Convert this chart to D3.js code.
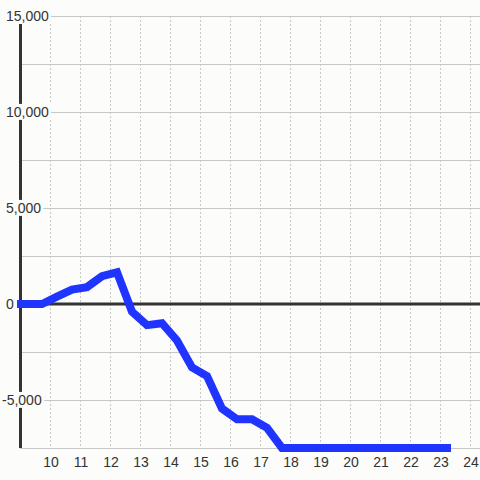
<!DOCTYPE html>
<html>
<head>
<meta charset="utf-8">
<script src="https://cdn.jsdelivr.net/npm/d3@7"></script>
<style>
  html, body { margin: 0; padding: 0; background: #fcfcfa; }
  svg { display: block; }
</style>
</head>
<body>
<svg id="chart" width="480" height="480"></svg>
<script>
// data
const hours = [9.0, 9.7, 10.2, 10.7, 11.2, 11.7, 12.2, 12.7, 13.2, 13.7, 14.2, 14.7, 15.2, 15.7,
               16.2, 16.7, 17.2, 17.7, 18.2, 18.7, 19.2, 19.7, 20.2, 20.7, 21.2, 21.7, 22.2, 22.7, 23.2];
const values = [0, 0, 380, 750, 880, 1450, 1650, -400, -1100, -1000, -1900, -3300, -3750, -5450,
                -6000, -6000, -6450, -7500, -7500, -7500, -7500, -7500, -7500, -7500, -7500, -7500, -7500, -7500, -7500];
const xTicks = [10, 11, 12, 13, 14, 15, 16, 17, 18, 19, 20, 21, 22, 23, 24];
const yGrid = [15000, 12500, 10000, 7500, 5000, 2500, 0, -2500, -5000, -7500];
const yLabels = [15000, 10000, 5000, 0, -5000];

const W = 480, H = 480;
const bg = '#fcfcfa';
const svg = d3.select('#chart');
svg.append('rect').attr('width', W).attr('height', H).attr('fill', bg);

const x = d3.scaleLinear().domain([9, 24.3]).range([21, 480]);
const y = d3.scaleLinear().domain([-7500, 15000]).range([448, 16]);

// vertical dotted grid
svg.append('g').selectAll('line')
  .data(xTicks).enter().append('line')
  .attr('x1', d => x(d) - 0.5).attr('x2', d => x(d) - 0.5)
  .attr('y1', y(15000)).attr('y2', y(-7500))
  .attr('stroke', '#c8c8c8').attr('stroke-width', 1)
  .attr('stroke-dasharray', '2,2');

// horizontal grid
svg.append('g').selectAll('line')
  .data(yGrid.filter(d => d !== 0)).enter().append('line')
  .attr('x1', 20).attr('x2', W)
  .attr('y1', d => y(d) + 0.5).attr('y2', d => y(d) + 0.5)
  .attr('stroke', '#c8c8c8').attr('stroke-width', 1);

// y axis & zero line
svg.append('line')
  .attr('x1', 20.5).attr('x2', 20.5).attr('y1', 24).attr('y2', y(-7500))
  .attr('stroke', '#333').attr('stroke-width', 3);
svg.append('line')
  .attr('x1', 20).attr('x2', W).attr('y1', y(0)).attr('y2', y(0))
  .attr('stroke', '#333').attr('stroke-width', 3);

// y labels with background boxes
const fmt = d3.format(',');
const yl = svg.append('g').attr('font-family', 'Liberation Sans, Arial, sans-serif')
  .attr('font-size', 14).attr('fill', '#333');
yLabels.forEach(v => {
  const t = yl.append('text')
    .attr('x', v < 0 ? 2 : 6).attr('y', y(v)).attr('dy', '0.35em')
    .text(fmt(v).replace('−', '-'));
  const bb = t.node().getBBox();
  yl.insert('rect', 'text')
    .attr('x', bb.x - 1).attr('y', bb.y)
    .attr('width', bb.width + 3).attr('height', bb.height)
    .attr('fill', bg);
});

// x labels
svg.append('g').attr('font-family', 'Liberation Sans, Arial, sans-serif')
  .attr('font-size', 14).attr('fill', '#333')
  .selectAll('text').data(xTicks).enter().append('text')
  .attr('x', d => x(d)).attr('y', 462).attr('dy', '0.35em')
  .attr('text-anchor', 'middle')
  .text(d => d);

// series
const line = d3.line().x((d, i) => x(hours[i])).y(d => y(d));
svg.append('path')
  .attr('d', line(values))
  .attr('fill', 'none')
  .attr('stroke', '#1f35ff')
  .attr('stroke-width', 8)
  .attr('stroke-linecap', 'square');
</script>
</body>
</html>
